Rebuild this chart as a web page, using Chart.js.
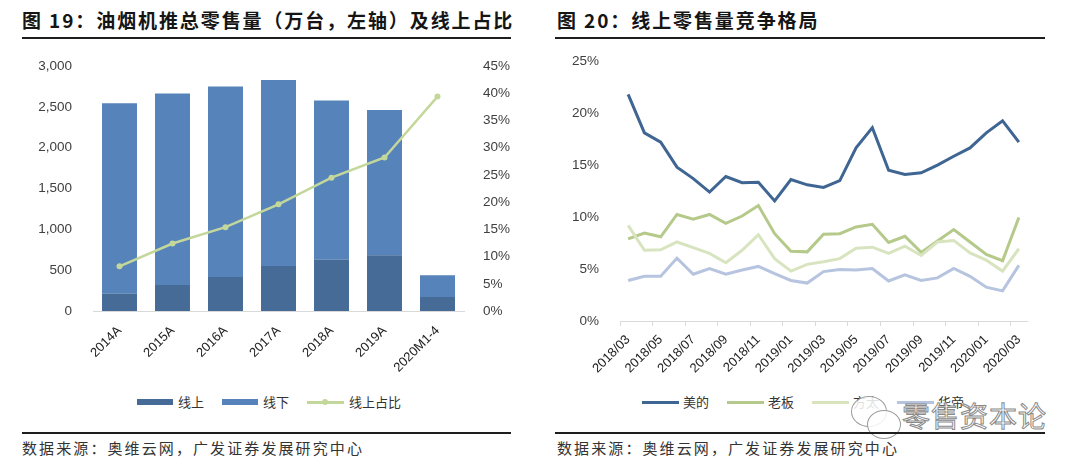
<!DOCTYPE html>
<html>
<head>
<meta charset="utf-8">
<script src="https://cdn.jsdelivr.net/npm/chart.js@4.4.1/dist/chart.umd.min.js"></script>
<style>
  body { margin: 0; width: 1080px; height: 468px; background: #fff; position: relative; overflow: hidden; font-family: "Noto Sans CJK SC", sans-serif; }
  .title { position: absolute; top: 9px; font-size: 19px; font-weight: bold; letter-spacing: 1.9px; color: #151515; line-height: 22px; white-space: nowrap; }
  .rule { position: absolute; height: 2px; background: #1e1e1e; }
  .source { position: absolute; top: 438px; font-size: 15px; letter-spacing: 2.1px; color: #333; line-height: 20px; white-space: nowrap; }
  canvas { position: absolute; }
  .legend { position: absolute; top: 393px; height: 18px; font-size: 13px; color: #333; line-height: 18px; white-space: nowrap; }
  .legend span { position: absolute; top: 0; }
  .swatch { position: absolute; }
  .wm { position: absolute; left: 902px; top: 399px; font-size: 28px; color: #fff; -webkit-text-stroke: 1px #8a8a8a; letter-spacing: 1px; line-height: 32px; }
  .bubble { position: absolute; border: 1.5px solid #9a9a9a; border-radius: 50%; background: rgba(255,255,255,0.85); }
</style>
</head>
<body>
<div class="title" style="left:22px">图 19：油烟机推总零售量（万台，左轴）及线上占比</div>
<div class="rule" style="left:22px; top:37px; width:489px"></div>
<div class="title" style="left:557px">图 20：线上零售量竞争格局</div>
<div class="rule" style="left:555px; top:37px; width:490px"></div>

<canvas id="salesChart" width="540" height="340" style="left:0; top:45px"></canvas>
<canvas id="brandChart" width="540" height="350" style="left:540px; top:40px"></canvas>

<div class="legend" style="left:0; width:540px">
  <div class="swatch" style="left:137px; top:6px; width:36px; height:6px; background:#466b97"></div>
  <span style="left:178px">线上</span>
  <div class="swatch" style="left:222px; top:6px; width:36px; height:6px; background:#5683b9"></div>
  <span style="left:263px">线下</span>
  <div class="swatch" style="left:307px; top:8px; width:37px; height:3px; background:#c4d79b"></div>
  <div class="swatch" style="left:322px; top:6px; width:6px; height:6px; border-radius:50%; background:#c4d79b"></div>
  <span style="left:349px">线上占比</span>
</div>
<div class="legend" style="left:540px; width:540px">
  <div class="swatch" style="left:102px; top:8px; width:37px; height:3px; background:#3f6592"></div>
  <span style="left:143px">美的</span>
  <div class="swatch" style="left:187px; top:8px; width:37px; height:3px; background:#b5c98b"></div>
  <span style="left:228px">老板</span>
  <div class="swatch" style="left:272px; top:8px; width:37px; height:3px; background:#d8e4bf"></div>
  <span style="left:313px">方太</span>
  <div class="swatch" style="left:357px; top:8px; width:37px; height:3px; background:#b6c4df"></div>
  <span style="left:398px">华帝</span>
</div>

<div class="bubble" style="left:851px; top:396px; width:34px; height:29px"></div>
<div class="bubble" style="left:867px; top:410px; width:32px; height:27px"></div>
<div class="wm">零售资本论</div>

<div class="rule" style="left:22px; top:432px; width:489px"></div>
<div class="source" style="left:22px">数据来源：奥维云网，广发证券发展研究中心</div>
<div class="rule" style="left:555px; top:432px; width:490px"></div>
<div class="source" style="left:557px">数据来源：奥维云网，广发证券发展研究中心</div>

<script>
// 图19 数据（万台 / %）
const years = ['2014A', '2015A', '2016A', '2017A', '2018A', '2019A', '2020M1-4'];
const onlineSales = [210, 320, 417, 550, 628, 684, 170];
const offlineSales = [2335, 2345, 2333, 2280, 1952, 1778, 267];
const onlineShare = [8.2, 12.4, 15.4, 19.6, 24.5, 28.2, 39.4];

// 图20 数据（%）
const months = ['2018/03', '2018/04', '2018/05', '2018/06', '2018/07', '2018/08', '2018/09', '2018/10', '2018/11', '2018/12',
                '2019/01', '2019/02', '2019/03', '2019/04', '2019/05', '2019/06', '2019/07', '2019/08', '2019/09', '2019/10',
                '2019/11', '2019/12', '2020/01', '2020/02', '2020/03'];
const midea = [21.8, 18.1, 17.2, 14.8, 13.7, 12.4, 13.9, 13.3, 13.35, 11.55, 13.6, 13.1, 12.85, 13.5, 16.65, 18.6, 14.5, 14.1, 14.25, 15.0, 15.85, 16.65, 18.1, 19.25, 17.2];
const robam = [7.9, 8.45, 8.1, 10.25, 9.8, 10.25, 9.4, 10.1, 11.1, 8.4, 6.7, 6.65, 8.35, 8.4, 9.05, 9.3, 7.55, 8.15, 6.6, 7.7, 8.8, 7.6, 6.4, 5.8, 9.95];
const fotile = [9.2, 6.8, 6.85, 7.6, 7.05, 6.5, 5.6, 6.8, 8.3, 6.0, 4.8, 5.45, 5.7, 6.0, 7.0, 7.1, 6.5, 7.2, 6.3, 7.6, 7.75, 6.55, 5.85, 4.8, 6.95];
const vatti = [3.9, 4.3, 4.3, 6.05, 4.5, 5.05, 4.5, 4.9, 5.25, 4.55, 3.9, 3.65, 4.75, 4.95, 4.9, 5.05, 3.85, 4.45, 3.9, 4.15, 5.05, 4.3, 3.25, 2.9, 5.35];

const tickFont = { family: '"Liberation Sans", Arial, sans-serif', size: 13.5 };
const tickColor = '#404040';
const axisGray = '#d9d9d9';

// 左图：堆叠柱 + 占比折线
new Chart(document.getElementById('salesChart'), {
    type: 'bar',
    data: {
        labels: years,
        datasets: [
            {
                type: 'line',
                label: '线上占比',
                data: onlineShare,
                yAxisID: 'y1',
                borderColor: '#c4d79b',
                backgroundColor: '#c4d79b',
                borderWidth: 2.5,
                pointRadius: 3,
                pointBorderWidth: 0,
                tension: 0,
                order: 0
            },
            { label: '线上', data: onlineSales, backgroundColor: '#466b97', yAxisID: 'y', order: 1, barPercentage: 0.66, categoryPercentage: 1 },
            { label: '线下', data: offlineSales, backgroundColor: '#5683b9', yAxisID: 'y', order: 1, barPercentage: 0.66, categoryPercentage: 1 }
        ]
    },
    options: {
        responsive: false,
        animation: false,
        layout: { padding: 0 },
        plugins: { legend: { display: false }, tooltip: { enabled: false } },
        scales: {
            x: {
                stacked: true,
                grid: { display: false, drawTicks: false },
                border: { display: true, color: axisGray },
                ticks: { minRotation: 45, maxRotation: 45, padding: 12, color: '#222', font: { family: tickFont.family, size: 13 } },
                afterFit: s => { s.height = 74; }
            },
            y: {
                stacked: true,
                position: 'left',
                min: 0,
                max: 3000,
                grid: { display: false },
                border: { display: false },
                ticks: { stepSize: 500, padding: 13, color: tickColor, font: tickFont, callback: v => v.toLocaleString('en-US') },
                afterFit: s => { s.width = 93; }
            },
            y1: {
                position: 'right',
                min: 0,
                max: 45,
                grid: { display: false },
                border: { display: false },
                ticks: { stepSize: 5, padding: 11, color: tickColor, font: tickFont, callback: v => v + '%' },
                afterFit: s => { s.width = 76; }
            }
        }
    }
});

// 右图：各品牌线上份额
function brandLine(label, data, color, order) {
    return { label: label, data: data, borderColor: color, backgroundColor: color, borderWidth: 3, pointRadius: 0, tension: 0, order: order };
}

new Chart(document.getElementById('brandChart'), {
    type: 'line',
    data: {
        labels: months,
        datasets: [
            brandLine('美的', midea, '#3f6592', 0),
            brandLine('老板', robam, '#b5c98b', 2),
            brandLine('方太', fotile, '#d8e4bf', 1),
            brandLine('华帝', vatti, '#b6c4df', 3)
        ]
    },
    options: {
        responsive: false,
        animation: false,
        layout: { padding: { top: 0, left: 0, right: 53, bottom: 0 } },
        plugins: { legend: { display: false }, tooltip: { enabled: false } },
        scales: {
            x: {
                offset: true,
                grid: {
                    offset: true,
                    drawOnChartArea: false,
                    drawTicks: true,
                    tickLength: 5,
                    color: ctx => (ctx.index % 2 === 0 ? axisGray : 'rgba(0,0,0,0)')
                },
                border: { display: true, color: axisGray },
                ticks: {
                    autoSkip: false,
                    minRotation: 45,
                    maxRotation: 45,
                    padding: 6,
                    color: '#222',
                    font: { family: tickFont.family, size: 13 },
                    callback: function (v, i) { return i % 2 === 0 ? this.getLabelForValue(v) : ''; }
                },
                afterFit: s => { s.height = 69; }
            },
            y: {
                min: 0,
                max: 25,
                grid: { display: false },
                border: { display: false },
                ticks: { stepSize: 5, padding: 13, color: tickColor, font: tickFont, callback: v => v + '%' },
                afterFit: s => { s.width = 80; }
            }
        }
    }
});
</script>
</body>
</html>
